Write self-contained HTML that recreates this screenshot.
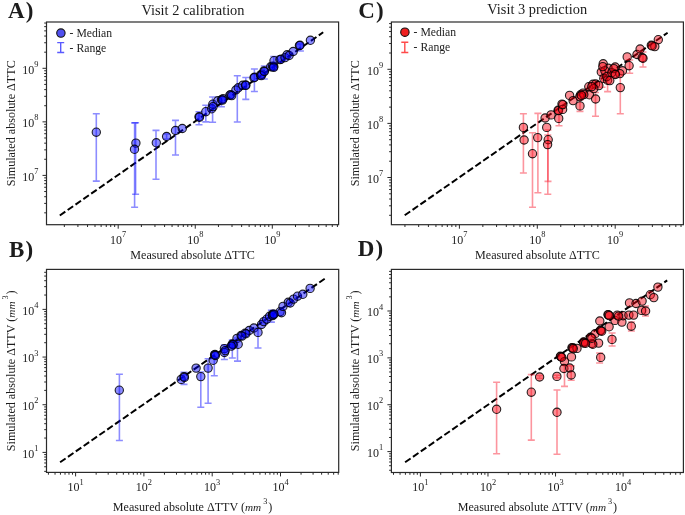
<!DOCTYPE html><html><head><meta charset="utf-8"><style>html,body{margin:0;padding:0;background:#fff;}svg{display:block;will-change:transform}text{font-family:"Liberation Serif", serif;fill:#1c1c1c}</style></head><body>
<svg width="685" height="515" viewBox="0 0 685 515">
<rect width="685" height="515" fill="#fff"/>
<clipPath id="clipA"><rect x="46.5" y="22.0" width="292.1" height="202.7"/></clipPath>
<line x1="59.8" y1="215.5" x2="323.2" y2="32.3" stroke="#000" stroke-width="2" stroke-dasharray="6.7 2.86" />
<g stroke="#0000ff" stroke-opacity="0.45" stroke-width="1.6" fill="none"><path d="M96.3 113.7V181.1M92.8 113.7H99.8M92.8 181.1H99.8"/><path d="M135.6 122.7V194.2M132.1 122.7H139.1M132.1 194.2H139.1"/><path d="M134.6 122.9V207.3M131.1 122.9H138.1M131.1 207.3H138.1"/><path d="M156 130.4V179.2M152.5 130.4H159.5M152.5 179.2H159.5"/><path d="M166.6 134V139M163.1 134H170.1M163.1 139H170.1"/><path d="M175.5 120.4V155M172 120.4H179M172 155H179"/><path d="M199 111.7V124.7M195.5 111.7H202.5M195.5 124.7H202.5"/><path d="M205.8 105.2V121.9M202.3 105.2H209.3M202.3 121.9H209.3"/><path d="M212.6 97V122.2M209.1 97H216.1M209.1 122.2H216.1"/><path d="M221.4 97V106.8M217.9 97H224.9M217.9 106.8H224.9"/><path d="M237.3 75.8V122M233.8 75.8H240.8M233.8 122H240.8"/><path d="M245.8 77.5V99.4M242.3 77.5H249.3M242.3 99.4H249.3"/><path d="M254.4 69V91.5M250.9 69H257.9M250.9 91.5H257.9"/><path d="M264.3 66V79M260.8 66H267.8M260.8 79H267.8"/><path d="M273.8 56.5V70M270.3 56.5H277.3M270.3 70H277.3"/><path d="M300.4 44V51M296.9 44H303.9M296.9 51H303.9"/></g>
<g fill="#0000ff" fill-opacity="0.45" stroke="#000" stroke-opacity="0.85" stroke-width="1.1"><circle cx="96.3" cy="132.2" r="4.15"/><circle cx="135.9" cy="143.1" r="4.15"/><circle cx="134.5" cy="149.3" r="4.15"/><circle cx="156.3" cy="142.8" r="4.15"/><circle cx="166.6" cy="136.5" r="4.15"/><circle cx="175.5" cy="130.5" r="4.15"/><circle cx="182.3" cy="128.5" r="4.15"/><circle cx="199" cy="116.8" r="4.15"/><circle cx="199.5" cy="117.2" r="4.15"/><circle cx="205.8" cy="111.7" r="4.15"/><circle cx="211.7" cy="108.8" r="4.15"/><circle cx="212.8" cy="104.2" r="4.15"/><circle cx="217.8" cy="100.8" r="4.15"/><circle cx="221.5" cy="99.8" r="4.15"/><circle cx="223" cy="98.8" r="4.15"/><circle cx="229.8" cy="95.2" r="4.15"/><circle cx="230.8" cy="94.6" r="4.15"/><circle cx="235.9" cy="90" r="4.15"/><circle cx="238.3" cy="87.8" r="4.15"/><circle cx="242.7" cy="85.3" r="4.15"/><circle cx="245.6" cy="85" r="4.15"/><circle cx="253.9" cy="77.8" r="4.15"/><circle cx="254.6" cy="77.3" r="4.15"/><circle cx="260.5" cy="75" r="4.15"/><circle cx="262" cy="74.2" r="4.15"/><circle cx="264" cy="70.9" r="4.15"/><circle cx="270.7" cy="66.8" r="4.15"/><circle cx="272.5" cy="66.2" r="4.15"/><circle cx="273.8" cy="66.4" r="4.15"/><circle cx="274" cy="60.7" r="4.15"/><circle cx="279.9" cy="59.6" r="4.15"/><circle cx="281" cy="59.3" r="4.15"/><circle cx="285" cy="57.6" r="4.15"/><circle cx="287.1" cy="54.8" r="4.15"/><circle cx="289.1" cy="55.5" r="4.15"/><circle cx="293.2" cy="51.5" r="4.15"/><circle cx="299.4" cy="45.6" r="4.15"/><circle cx="300" cy="45.3" r="4.15"/><circle cx="310.4" cy="40.3" r="4.15"/><circle cx="222.5" cy="100.1" r="4.15"/><circle cx="231.7" cy="95.6" r="4.15"/><circle cx="245.8" cy="85.4" r="4.15"/><circle cx="261.3" cy="75.6" r="4.15"/><circle cx="264.4" cy="71.5" r="4.15"/><circle cx="273.6" cy="67.4" r="4.15"/><circle cx="213.1" cy="106.6" r="4.15"/></g>
<rect x="46.5" y="22.0" width="292.1" height="202.7" fill="none" stroke="#2a2a2a" stroke-width="1.2"/>
<path d="M64.34 224.7v2.3M77.91 224.7v2.3M87.54 224.7v2.3M95.01 224.7v2.3M101.11 224.7v2.3M106.26 224.7v2.3M110.73 224.7v2.3M114.67 224.7v2.3M118.2 224.7v4M141.39 224.7v2.3M154.96 224.7v2.3M164.59 224.7v2.3M172.06 224.7v2.3M178.16 224.7v2.3M183.31 224.7v2.3M187.78 224.7v2.3M191.72 224.7v2.3M195.25 224.7v4M218.44 224.7v2.3M232.01 224.7v2.3M241.64 224.7v2.3M249.11 224.7v2.3M255.21 224.7v2.3M260.36 224.7v2.3M264.83 224.7v2.3M268.77 224.7v2.3M272.3 224.7v4M295.49 224.7v2.3M309.06 224.7v2.3M318.69 224.7v2.3M326.16 224.7v2.3M332.26 224.7v2.3M337.41 224.7v2.3M46.5 212.83h-2.3M46.5 203.4h-2.3M46.5 196.71h-2.3M46.5 191.52h-2.3M46.5 187.28h-2.3M46.5 183.69h-2.3M46.5 180.59h-2.3M46.5 177.85h-2.3M46.5 175.4h-4M46.5 159.28h-2.3M46.5 149.85h-2.3M46.5 143.16h-2.3M46.5 137.97h-2.3M46.5 133.73h-2.3M46.5 130.14h-2.3M46.5 127.04h-2.3M46.5 124.3h-2.3M46.5 121.85h-4M46.5 105.73h-2.3M46.5 96.3h-2.3M46.5 89.61h-2.3M46.5 84.42h-2.3M46.5 80.18h-2.3M46.5 76.59h-2.3M46.5 73.49h-2.3M46.5 70.75h-2.3M46.5 68.3h-4M46.5 52.18h-2.3M46.5 42.75h-2.3M46.5 36.06h-2.3M46.5 30.87h-2.3M46.5 26.63h-2.3M46.5 23.04h-2.3" stroke="#2a2a2a" stroke-width="1" fill="none"/>
<text x="118.2" y="243.6" font-size="12" text-anchor="middle">10<tspan font-size="8.4" dy="-6.8">7</tspan></text>
<text x="38.4" y="180.8" font-size="12" text-anchor="end">10<tspan font-size="8.4" dy="-6.8">7</tspan></text>
<text x="195.25" y="243.6" font-size="12" text-anchor="middle">10<tspan font-size="8.4" dy="-6.8">8</tspan></text>
<text x="38.4" y="127.25" font-size="12" text-anchor="end">10<tspan font-size="8.4" dy="-6.8">8</tspan></text>
<text x="272.3" y="243.6" font-size="12" text-anchor="middle">10<tspan font-size="8.4" dy="-6.8">9</tspan></text>
<text x="38.4" y="73.7" font-size="12" text-anchor="end">10<tspan font-size="8.4" dy="-6.8">9</tspan></text>
<clipPath id="clipB"><rect x="46.5" y="269.4" width="292.2" height="203.0"/></clipPath>
<line x1="60.1" y1="462.3" x2="324.7" y2="278.7" stroke="#000" stroke-width="2" stroke-dasharray="6.7 2.86" />
<g stroke="#0000ff" stroke-opacity="0.45" stroke-width="1.6" fill="none"><path d="M119.4 374.3V440.5M115.9 374.3H122.9M115.9 440.5H122.9"/><path d="M184 372.3V384.4M180.5 372.3H187.5M180.5 384.4H187.5"/><path d="M200.8 372V407.2M197.3 372H204.3M197.3 407.2H204.3"/><path d="M208.1 358.7V403.3M204.6 358.7H211.6M204.6 403.3H211.6"/><path d="M214.3 352V375.8M210.8 352H217.8M210.8 375.8H217.8"/><path d="M224.4 345V359.5M220.9 345H227.9M220.9 359.5H227.9"/><path d="M232.3 340V358M228.8 340H235.8M228.8 358H235.8"/><path d="M237.5 338V361.1M234 338H241M234 361.1H241"/><path d="M258 328V348M254.5 328H261.5M254.5 348H261.5"/><path d="M271.4 310.3V322.1M267.9 310.3H274.9M267.9 322.1H274.9"/></g>
<g fill="#0000ff" fill-opacity="0.45" stroke="#000" stroke-opacity="0.85" stroke-width="1.1"><circle cx="119.3" cy="390.2" r="4.15"/><circle cx="181.2" cy="379.4" r="4.15"/><circle cx="184" cy="376.6" r="4.15"/><circle cx="196.1" cy="368.1" r="4.15"/><circle cx="200.8" cy="376.6" r="4.15"/><circle cx="208.1" cy="368.1" r="4.15"/><circle cx="213.2" cy="360.3" r="4.15"/><circle cx="214.6" cy="354.9" r="4.15"/><circle cx="215" cy="354.5" r="4.15"/><circle cx="224.4" cy="348.6" r="4.15"/><circle cx="224.4" cy="352.5" r="4.15"/><circle cx="232.3" cy="344" r="4.15"/><circle cx="232.8" cy="344.5" r="4.15"/><circle cx="237" cy="338.4" r="4.15"/><circle cx="238.2" cy="344.3" r="4.15"/><circle cx="241.1" cy="335.5" r="4.15"/><circle cx="245.1" cy="333.2" r="4.15"/><circle cx="249.2" cy="330.5" r="4.15"/><circle cx="253.9" cy="328" r="4.15"/><circle cx="258" cy="332.4" r="4.15"/><circle cx="261.5" cy="324.5" r="4.15"/><circle cx="263.8" cy="321.6" r="4.15"/><circle cx="266.7" cy="319.2" r="4.15"/><circle cx="269.6" cy="316.3" r="4.15"/><circle cx="272.5" cy="314.2" r="4.15"/><circle cx="273" cy="314.6" r="4.15"/><circle cx="280.1" cy="311.7" r="4.15"/><circle cx="281.5" cy="312.7" r="4.15"/><circle cx="283" cy="306.4" r="4.15"/><circle cx="288.3" cy="302.3" r="4.15"/><circle cx="290.2" cy="303" r="4.15"/><circle cx="293.6" cy="299.1" r="4.15"/><circle cx="297.5" cy="296.2" r="4.15"/><circle cx="302.8" cy="294.3" r="4.15"/><circle cx="310.1" cy="288.4" r="4.15"/><circle cx="215.4" cy="355.5" r="4.15"/><circle cx="233.1" cy="344.6" r="4.15"/><circle cx="273.3" cy="314.8" r="4.15"/><circle cx="272.6" cy="315.6" r="4.15"/><circle cx="274" cy="314.2" r="4.15"/><circle cx="245.9" cy="333.8" r="4.15"/><circle cx="241.9" cy="336.1" r="4.15"/><circle cx="225.2" cy="350.6" r="4.15"/><circle cx="231.3" cy="346.1" r="4.15"/><circle cx="184.4" cy="377.4" r="4.15"/></g>
<rect x="46.5" y="269.4" width="292.2" height="203" fill="none" stroke="#2a2a2a" stroke-width="1.2"/>
<path d="M48.42 472.4v2.3M55.04 472.4v2.3M60.45 472.4v2.3M65.02 472.4v2.3M68.98 472.4v2.3M72.47 472.4v2.3M75.6 472.4v4M96.16 472.4v2.3M108.19 472.4v2.3M116.72 472.4v2.3M123.34 472.4v2.3M128.75 472.4v2.3M133.32 472.4v2.3M137.28 472.4v2.3M140.77 472.4v2.3M143.9 472.4v4M164.46 472.4v2.3M176.49 472.4v2.3M185.02 472.4v2.3M191.64 472.4v2.3M197.05 472.4v2.3M201.62 472.4v2.3M205.58 472.4v2.3M209.07 472.4v2.3M212.2 472.4v4M232.76 472.4v2.3M244.79 472.4v2.3M253.32 472.4v2.3M259.94 472.4v2.3M265.35 472.4v2.3M269.92 472.4v2.3M273.88 472.4v2.3M277.37 472.4v2.3M280.5 472.4v4M301.06 472.4v2.3M313.09 472.4v2.3M321.62 472.4v2.3M328.24 472.4v2.3M333.65 472.4v2.3M338.22 472.4v2.3M46.5 471.37h-2.3M46.5 466.75h-2.3M46.5 462.98h-2.3M46.5 459.78h-2.3M46.5 457.02h-2.3M46.5 454.58h-2.3M46.5 452.4h-4M46.5 438.05h-2.3M46.5 429.66h-2.3M46.5 423.7h-2.3M46.5 419.08h-2.3M46.5 415.31h-2.3M46.5 412.11h-2.3M46.5 409.35h-2.3M46.5 406.91h-2.3M46.5 404.73h-4M46.5 390.38h-2.3M46.5 381.99h-2.3M46.5 376.03h-2.3M46.5 371.41h-2.3M46.5 367.64h-2.3M46.5 364.44h-2.3M46.5 361.68h-2.3M46.5 359.24h-2.3M46.5 357.06h-4M46.5 342.71h-2.3M46.5 334.32h-2.3M46.5 328.36h-2.3M46.5 323.74h-2.3M46.5 319.97h-2.3M46.5 316.77h-2.3M46.5 314.01h-2.3M46.5 311.57h-2.3M46.5 309.39h-4M46.5 295.04h-2.3M46.5 286.65h-2.3M46.5 280.69h-2.3M46.5 276.07h-2.3M46.5 272.3h-2.3" stroke="#2a2a2a" stroke-width="1" fill="none"/>
<text x="75.6" y="491.3" font-size="12" text-anchor="middle">10<tspan font-size="8.4" dy="-6.8">1</tspan></text>
<text x="38.4" y="457.8" font-size="12" text-anchor="end">10<tspan font-size="8.4" dy="-6.8">1</tspan></text>
<text x="143.9" y="491.3" font-size="12" text-anchor="middle">10<tspan font-size="8.4" dy="-6.8">2</tspan></text>
<text x="38.4" y="410.13" font-size="12" text-anchor="end">10<tspan font-size="8.4" dy="-6.8">2</tspan></text>
<text x="212.2" y="491.3" font-size="12" text-anchor="middle">10<tspan font-size="8.4" dy="-6.8">3</tspan></text>
<text x="38.4" y="362.46" font-size="12" text-anchor="end">10<tspan font-size="8.4" dy="-6.8">3</tspan></text>
<text x="280.5" y="491.3" font-size="12" text-anchor="middle">10<tspan font-size="8.4" dy="-6.8">4</tspan></text>
<text x="38.4" y="314.79" font-size="12" text-anchor="end">10<tspan font-size="8.4" dy="-6.8">4</tspan></text>
<clipPath id="clipC"><rect x="391.4" y="22.0" width="292.0" height="202.7"/></clipPath>
<line x1="404.7" y1="215.3" x2="667.6" y2="32.7" stroke="#000" stroke-width="2" stroke-dasharray="6.7 2.86" />
<g stroke="#f81428" stroke-opacity="0.45" stroke-width="1.6" fill="none"><path d="M523.4 113.7V173M519.9 113.7H526.9M519.9 173H526.9"/><path d="M532.5 132.7V207.2M529 132.7H536M529 207.2H536"/><path d="M537.9 113.4V192.8M534.4 113.4H541.4M534.4 192.8H541.4"/><path d="M548 130V181.4M544.5 130H551.5M544.5 181.4H551.5"/><path d="M547.8 135V194.2M544.3 135H551.3M544.3 194.2H551.3"/><path d="M559 112V125.7M555.5 112H562.5M555.5 125.7H562.5"/><path d="M580 100V111.4M576.5 100H583.5M576.5 111.4H583.5"/><path d="M595.5 92.5V116.2M592 92.5H599M592 116.2H599"/><path d="M602 70V87.2M598.5 70H605.5M598.5 87.2H605.5"/><path d="M607.6 75V91.6M604.1 75H611.1M604.1 91.6H611.1"/><path d="M620.3 75.2V113.7M616.8 75.2H623.8M616.8 113.7H623.8"/><path d="M629.7 60V73.3M626.2 60H633.2M626.2 73.3H633.2"/><path d="M643 52V67M639.5 52H646.5M639.5 67H646.5"/></g>
<g fill="#f80010" fill-opacity="0.45" stroke="#000" stroke-opacity="0.85" stroke-width="1.1"><circle cx="523.4" cy="127.4" r="4.15"/><circle cx="524.1" cy="140" r="4.15"/><circle cx="532.5" cy="153.7" r="4.15"/><circle cx="537.7" cy="137.6" r="4.15"/><circle cx="545.1" cy="118" r="4.15"/><circle cx="546.7" cy="127.4" r="4.15"/><circle cx="548.2" cy="139.7" r="4.15"/><circle cx="547.6" cy="144.6" r="4.15"/><circle cx="551.1" cy="114.9" r="4.15"/><circle cx="558.7" cy="118.4" r="4.15"/><circle cx="558.1" cy="110.2" r="4.15"/><circle cx="558.5" cy="110.6" r="4.15"/><circle cx="562" cy="104.1" r="4.15"/><circle cx="562.6" cy="109.4" r="4.15"/><circle cx="569.6" cy="95.4" r="4.15"/><circle cx="573.1" cy="100.6" r="4.15"/><circle cx="580" cy="105.9" r="4.15"/><circle cx="580.6" cy="94.8" r="4.15"/><circle cx="583" cy="93.1" r="4.15"/><circle cx="589.4" cy="94.8" r="4.15"/><circle cx="595.6" cy="99" r="4.15"/><circle cx="588.8" cy="86.7" r="4.15"/><circle cx="592.9" cy="84.3" r="4.15"/><circle cx="595.6" cy="84" r="4.15"/><circle cx="601.3" cy="72" r="4.15"/><circle cx="603.2" cy="63.8" r="4.15"/><circle cx="603.8" cy="78.4" r="4.15"/><circle cx="607.6" cy="80.3" r="4.15"/><circle cx="608.3" cy="68.3" r="4.15"/><circle cx="615.2" cy="67" r="4.15"/><circle cx="614.6" cy="73.9" r="4.15"/><circle cx="620.3" cy="87.6" r="4.15"/><circle cx="622.5" cy="70.8" r="4.15"/><circle cx="627.2" cy="56.9" r="4.15"/><circle cx="629.1" cy="65.7" r="4.15"/><circle cx="637" cy="54.5" r="4.15"/><circle cx="640.1" cy="49" r="4.15"/><circle cx="642.2" cy="57.7" r="4.15"/><circle cx="651.3" cy="45.3" r="4.15"/><circle cx="658.3" cy="39.7" r="4.15"/><circle cx="604.8" cy="70.6" r="4.15"/><circle cx="606.8" cy="76.6" r="4.15"/><circle cx="611.8" cy="72.6" r="4.15"/><circle cx="613.8" cy="68.6" r="4.15"/><circle cx="609.8" cy="80.6" r="4.15"/><circle cx="598.8" cy="85.6" r="4.15"/><circle cx="593.8" cy="88.6" r="4.15"/><circle cx="619.8" cy="73.6" r="4.15"/><circle cx="591.8" cy="86.6" r="4.15"/><circle cx="579.8" cy="96.6" r="4.15"/><circle cx="583.8" cy="94.6" r="4.15"/><circle cx="654.8" cy="46.6" r="4.15"/><circle cx="602.8" cy="66.6" r="4.15"/><circle cx="615.4" cy="74.5" r="4.15"/><circle cx="643" cy="58.3" r="4.15"/><circle cx="652.1" cy="45.9" r="4.15"/><circle cx="581.4" cy="95.4" r="4.15"/><circle cx="562.8" cy="104.7" r="4.15"/></g>
<rect x="391.4" y="22.0" width="292" height="202.7" fill="none" stroke="#2a2a2a" stroke-width="1.2"/>
<path d="M404.95 224.7v2.3M418.67 224.7v2.3M428.4 224.7v2.3M435.95 224.7v2.3M442.12 224.7v2.3M447.33 224.7v2.3M451.85 224.7v2.3M455.84 224.7v2.3M459.4 224.7v4M482.85 224.7v2.3M496.57 224.7v2.3M506.3 224.7v2.3M513.85 224.7v2.3M520.02 224.7v2.3M525.23 224.7v2.3M529.75 224.7v2.3M533.74 224.7v2.3M537.3 224.7v4M560.75 224.7v2.3M574.47 224.7v2.3M584.2 224.7v2.3M591.75 224.7v2.3M597.92 224.7v2.3M603.13 224.7v2.3M607.65 224.7v2.3M611.64 224.7v2.3M615.2 224.7v4M638.65 224.7v2.3M652.37 224.7v2.3M662.1 224.7v2.3M669.65 224.7v2.3M675.82 224.7v2.3M681.03 224.7v2.3M391.4 215.31h-2.3M391.4 205.79h-2.3M391.4 199.03h-2.3M391.4 193.79h-2.3M391.4 189.5h-2.3M391.4 185.88h-2.3M391.4 182.74h-2.3M391.4 179.98h-2.3M391.4 177.5h-4M391.4 161.21h-2.3M391.4 151.69h-2.3M391.4 144.93h-2.3M391.4 139.69h-2.3M391.4 135.4h-2.3M391.4 131.78h-2.3M391.4 128.64h-2.3M391.4 125.88h-2.3M391.4 123.4h-4M391.4 107.11h-2.3M391.4 97.59h-2.3M391.4 90.83h-2.3M391.4 85.59h-2.3M391.4 81.3h-2.3M391.4 77.68h-2.3M391.4 74.54h-2.3M391.4 71.78h-2.3M391.4 69.3h-4M391.4 53.01h-2.3M391.4 43.49h-2.3M391.4 36.73h-2.3M391.4 31.49h-2.3M391.4 27.2h-2.3M391.4 23.58h-2.3" stroke="#2a2a2a" stroke-width="1" fill="none"/>
<text x="459.4" y="243.6" font-size="12" text-anchor="middle">10<tspan font-size="8.4" dy="-6.8">7</tspan></text>
<text x="383.3" y="182.9" font-size="12" text-anchor="end">10<tspan font-size="8.4" dy="-6.8">7</tspan></text>
<text x="537.3" y="243.6" font-size="12" text-anchor="middle">10<tspan font-size="8.4" dy="-6.8">8</tspan></text>
<text x="383.3" y="128.8" font-size="12" text-anchor="end">10<tspan font-size="8.4" dy="-6.8">8</tspan></text>
<text x="615.2" y="243.6" font-size="12" text-anchor="middle">10<tspan font-size="8.4" dy="-6.8">9</tspan></text>
<text x="383.3" y="74.7" font-size="12" text-anchor="end">10<tspan font-size="8.4" dy="-6.8">9</tspan></text>
<clipPath id="clipD"><rect x="391.4" y="269.4" width="292.0" height="203.10000000000002"/></clipPath>
<line x1="405.1" y1="462.3" x2="667.2" y2="280.4" stroke="#000" stroke-width="2" stroke-dasharray="6.7 2.86" />
<g stroke="#f81428" stroke-opacity="0.45" stroke-width="1.6" fill="none"><path d="M496.6 382.3V453.8M493.1 382.3H500.1M493.1 453.8H500.1"/><path d="M531.3 374.6V440.1M527.8 374.6H534.8M527.8 440.1H534.8"/><path d="M539.6 375.6V378.4M536.1 375.6H543.1M536.1 378.4H543.1"/><path d="M556.9 375.2V377.8M553.4 375.2H560.4M553.4 377.8H560.4"/><path d="M557 390V454.2M553.5 390H560.5M553.5 454.2H560.5"/><path d="M564.5 365V386.4M561 365H568M561 386.4H568"/><path d="M571.2 365.9V380.2M567.7 365.9H574.7M567.7 380.2H574.7"/><path d="M612.1 333V346M608.6 333H615.6M608.6 346H615.6"/><path d="M631.4 322V331M627.9 322H634.9M627.9 331H634.9"/><path d="M645.5 306V316M642 306H649M642 316H649"/><path d="M599.6 353V363M596.1 353H603.1M596.1 363H603.1"/></g>
<g fill="#f80010" fill-opacity="0.45" stroke="#000" stroke-opacity="0.85" stroke-width="1.1"><circle cx="496.6" cy="409.3" r="4.15"/><circle cx="531.3" cy="392.2" r="4.15"/><circle cx="557" cy="412.3" r="4.15"/><circle cx="539.6" cy="377" r="4.15"/><circle cx="556.9" cy="376.4" r="4.15"/><circle cx="560.4" cy="356.3" r="4.15"/><circle cx="560.8" cy="356.6" r="4.15"/><circle cx="564.5" cy="361.6" r="4.15"/><circle cx="563.9" cy="368.5" r="4.15"/><circle cx="569.7" cy="368" r="4.15"/><circle cx="571.2" cy="375" r="4.15"/><circle cx="571.5" cy="356.9" r="4.15"/><circle cx="572" cy="347.6" r="4.15"/><circle cx="572.4" cy="348" r="4.15"/><circle cx="577" cy="348.4" r="4.15"/><circle cx="584.3" cy="342.3" r="4.15"/><circle cx="583.5" cy="342" r="4.15"/><circle cx="591.8" cy="343.5" r="4.15"/><circle cx="600.7" cy="357.4" r="4.15"/><circle cx="590.5" cy="337.3" r="4.15"/><circle cx="595.1" cy="333.8" r="4.15"/><circle cx="598.6" cy="343.1" r="4.15"/><circle cx="600.4" cy="330.3" r="4.15"/><circle cx="600.8" cy="330.6" r="4.15"/><circle cx="599.8" cy="321" r="4.15"/><circle cx="609.1" cy="326.8" r="4.15"/><circle cx="608" cy="314.6" r="4.15"/><circle cx="608.4" cy="314.9" r="4.15"/><circle cx="612" cy="339.4" r="4.15"/><circle cx="615" cy="320.4" r="4.15"/><circle cx="617.3" cy="315.1" r="4.15"/><circle cx="621.9" cy="322.1" r="4.15"/><circle cx="623.1" cy="315.7" r="4.15"/><circle cx="628.9" cy="315.1" r="4.15"/><circle cx="633.6" cy="315.1" r="4.15"/><circle cx="631.3" cy="326.2" r="4.15"/><circle cx="629.5" cy="302.9" r="4.15"/><circle cx="636" cy="303.5" r="4.15"/><circle cx="642.1" cy="301.1" r="4.15"/><circle cx="641.6" cy="310.4" r="4.15"/><circle cx="645.6" cy="311" r="4.15"/><circle cx="650.3" cy="294.7" r="4.15"/><circle cx="653.8" cy="297.6" r="4.15"/><circle cx="657.9" cy="287.1" r="4.15"/><circle cx="592.8" cy="344.3" r="4.15"/><circle cx="583.8" cy="343.1" r="4.15"/><circle cx="561.7" cy="357.3" r="4.15"/><circle cx="573.3" cy="348.6" r="4.15"/><circle cx="585.6" cy="343.3" r="4.15"/><circle cx="601.7" cy="331.3" r="4.15"/><circle cx="609.3" cy="315.6" r="4.15"/><circle cx="591.8" cy="338.3" r="4.15"/><circle cx="618.6" cy="316.1" r="4.15"/></g>
<rect x="391.4" y="269.4" width="292" height="203.1" fill="none" stroke="#2a2a2a" stroke-width="1.2"/>
<path d="M393.51 472.5v2.3M400.06 472.5v2.3M405.41 472.5v2.3M409.93 472.5v2.3M413.85 472.5v2.3M417.31 472.5v2.3M420.4 472.5v4M440.74 472.5v2.3M452.64 472.5v2.3M461.08 472.5v2.3M467.63 472.5v2.3M472.98 472.5v2.3M477.5 472.5v2.3M481.42 472.5v2.3M484.88 472.5v2.3M487.97 472.5v4M508.31 472.5v2.3M520.21 472.5v2.3M528.65 472.5v2.3M535.2 472.5v2.3M540.55 472.5v2.3M545.07 472.5v2.3M548.99 472.5v2.3M552.45 472.5v2.3M555.54 472.5v4M575.88 472.5v2.3M587.78 472.5v2.3M596.22 472.5v2.3M602.77 472.5v2.3M608.12 472.5v2.3M612.64 472.5v2.3M616.56 472.5v2.3M620.02 472.5v2.3M623.11 472.5v4M643.45 472.5v2.3M655.35 472.5v2.3M663.79 472.5v2.3M670.34 472.5v2.3M675.69 472.5v2.3M680.21 472.5v2.3M391.4 470.25h-2.3M391.4 465.71h-2.3M391.4 462h-2.3M391.4 458.86h-2.3M391.4 456.14h-2.3M391.4 453.74h-2.3M391.4 451.6h-4M391.4 437.49h-2.3M391.4 429.24h-2.3M391.4 423.38h-2.3M391.4 418.84h-2.3M391.4 415.13h-2.3M391.4 411.99h-2.3M391.4 409.27h-2.3M391.4 406.87h-2.3M391.4 404.73h-4M391.4 390.62h-2.3M391.4 382.37h-2.3M391.4 376.51h-2.3M391.4 371.97h-2.3M391.4 368.26h-2.3M391.4 365.12h-2.3M391.4 362.4h-2.3M391.4 360h-2.3M391.4 357.86h-4M391.4 343.75h-2.3M391.4 335.5h-2.3M391.4 329.64h-2.3M391.4 325.1h-2.3M391.4 321.39h-2.3M391.4 318.25h-2.3M391.4 315.53h-2.3M391.4 313.13h-2.3M391.4 310.99h-4M391.4 296.88h-2.3M391.4 288.63h-2.3M391.4 282.77h-2.3M391.4 278.23h-2.3M391.4 274.52h-2.3M391.4 271.38h-2.3" stroke="#2a2a2a" stroke-width="1" fill="none"/>
<text x="420.4" y="491.4" font-size="12" text-anchor="middle">10<tspan font-size="8.4" dy="-6.8">1</tspan></text>
<text x="383.3" y="457" font-size="12" text-anchor="end">10<tspan font-size="8.4" dy="-6.8">1</tspan></text>
<text x="487.97" y="491.4" font-size="12" text-anchor="middle">10<tspan font-size="8.4" dy="-6.8">2</tspan></text>
<text x="383.3" y="410.13" font-size="12" text-anchor="end">10<tspan font-size="8.4" dy="-6.8">2</tspan></text>
<text x="555.54" y="491.4" font-size="12" text-anchor="middle">10<tspan font-size="8.4" dy="-6.8">3</tspan></text>
<text x="383.3" y="363.26" font-size="12" text-anchor="end">10<tspan font-size="8.4" dy="-6.8">3</tspan></text>
<text x="623.11" y="491.4" font-size="12" text-anchor="middle">10<tspan font-size="8.4" dy="-6.8">4</tspan></text>
<text x="383.3" y="316.39" font-size="12" text-anchor="end">10<tspan font-size="8.4" dy="-6.8">4</tspan></text>
<text x="193" y="15" font-size="14.4" text-anchor="middle">Visit 2 calibration</text>
<text x="537.2" y="14.3" font-size="14.4" text-anchor="middle">Visit 3 prediction</text>
<text x="8.0" y="17.6" font-size="23" font-weight="bold" letter-spacing="1.2">A)</text>
<text x="8.9" y="256.9" font-size="23" font-weight="bold" letter-spacing="1.2">B)</text>
<text x="358.2" y="17.7" font-size="23" font-weight="bold" letter-spacing="1.2">C)</text>
<text x="357.8" y="256.1" font-size="23" font-weight="bold" letter-spacing="1.2">D)</text>
<text x="192.6" y="259.4" font-size="12.1" text-anchor="middle">Measured absolute ΔTTC</text>
<text x="537.4" y="259.4" font-size="12.1" text-anchor="middle">Measured absolute ΔTTC</text>
<text x="192.6" y="511" font-size="12.1" text-anchor="middle">Measured absolute ΔTTV (<tspan font-style="italic" font-size="11.2">mm</tspan><tspan font-size="8.2" dx="2" dy="-7">3</tspan><tspan dx="1" dy="7">)</tspan></text>
<text x="537.4" y="511" font-size="12.1" text-anchor="middle">Measured absolute ΔTTV (<tspan font-style="italic" font-size="11.2">mm</tspan><tspan font-size="8.2" dx="2" dy="-7">3</tspan><tspan dx="1" dy="7">)</tspan></text>
<text transform="translate(14.6,123.3) rotate(-90)" font-size="12.1" text-anchor="middle">Simulated absolute ΔTTC</text>
<text transform="translate(359,123.3) rotate(-90)" font-size="12.1" text-anchor="middle">Simulated absolute ΔTTC</text>
<text transform="translate(14.6,370.8) rotate(-90)" font-size="12.1" text-anchor="middle">Simulated absolute ΔTTV (<tspan font-style="italic" font-size="11.2">mm</tspan><tspan font-size="8.2" dx="2" dy="-7">3</tspan><tspan dx="1" dy="7">)</tspan></text>
<text transform="translate(359,370.8) rotate(-90)" font-size="12.1" text-anchor="middle">Simulated absolute ΔTTV (<tspan font-style="italic" font-size="11.2">mm</tspan><tspan font-size="8.2" dx="2" dy="-7">3</tspan><tspan dx="1" dy="7">)</tspan></text>
<circle cx="60.9" cy="33.1" r="4.2" fill="#5050f0" stroke="#111" stroke-width="1.1"/>
<path d="M60.7 42.6V52.5M57.2 42.6H64.2M57.2 52.5H64.2" stroke="#5a5aff" stroke-width="1.4" fill="none"/>
<text x="69.6" y="36.5" font-size="11.7">- Median</text>
<text x="69.6" y="52.3" font-size="11.7">- Range</text>
<circle cx="404.9" cy="32.2" r="4.2" fill="#f02020" stroke="#111" stroke-width="1.1"/>
<path d="M404.8 42.3V52.5M401.3 42.3H408.3M401.3 52.5H408.3" stroke="#ff4a4a" stroke-width="1.4" fill="none"/>
<text x="413.6" y="35.5" font-size="11.7">- Median</text>
<text x="413.6" y="51.2" font-size="11.7">- Range</text>
</svg></body></html>
